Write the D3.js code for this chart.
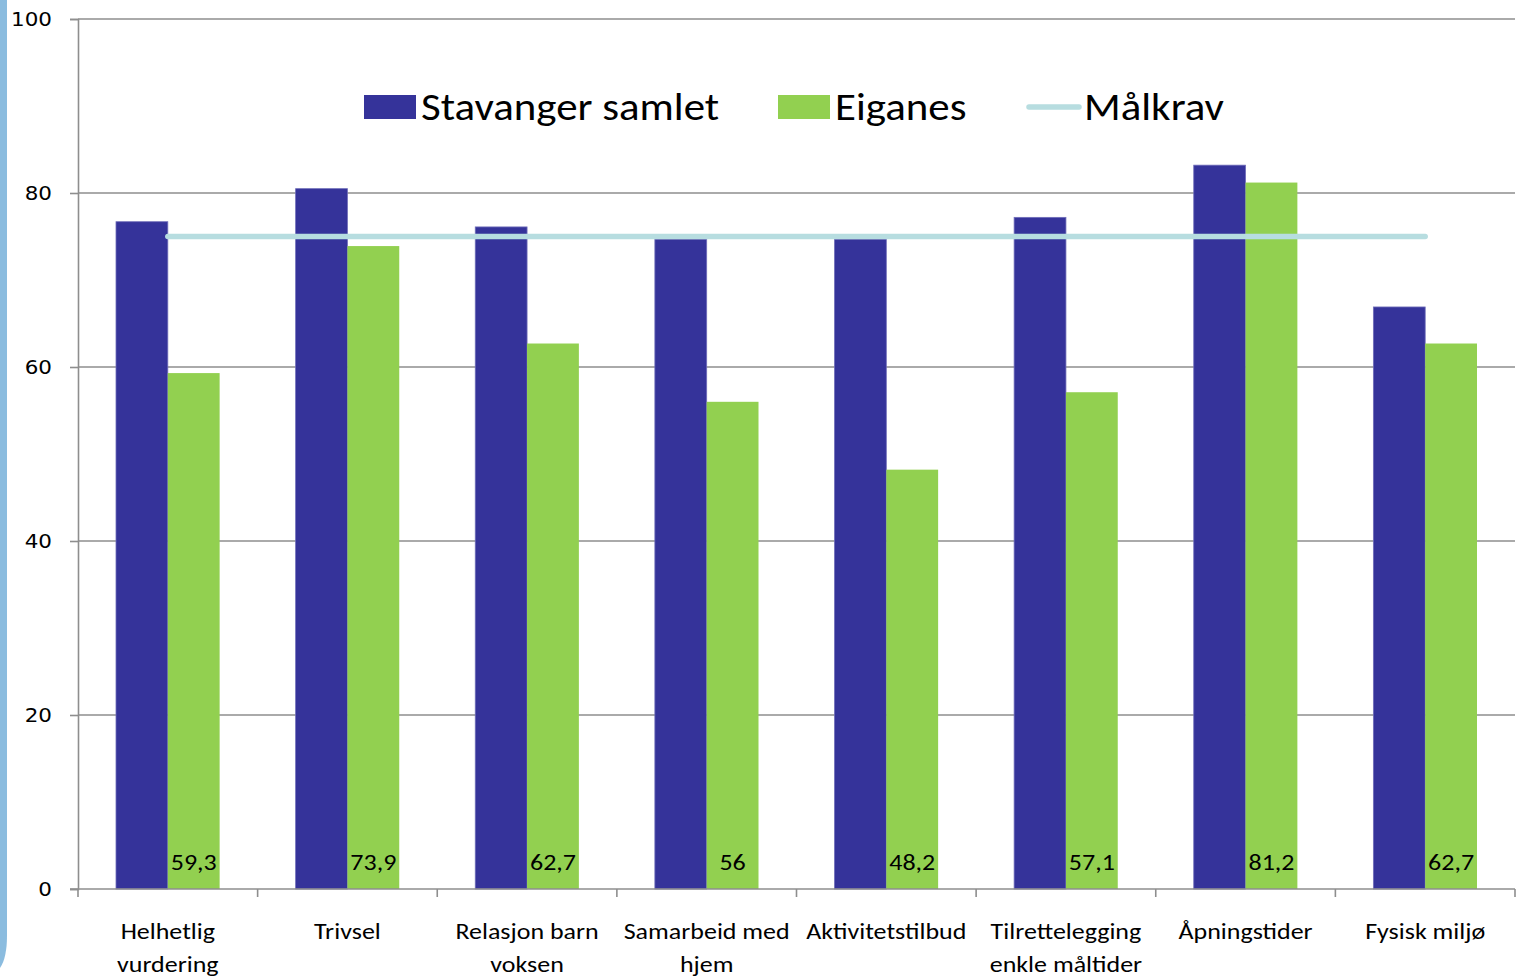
<!DOCTYPE html>
<html>
<head>
<meta charset="utf-8">
<script src="https://cdn.jsdelivr.net/npm/d3@7"></script>
<style>
  body { margin: 0; background: #fff; }
  svg { display: block; }
</style>
</head>
<body>
<div id="chart"></div>
<script>
// data
const categories = ["Helhetlig vurdering", "Trivsel", "Relasjon barn voksen", "Samarbeid med hjem",
  "Aktivitetstilbud", "Tilrettelegging enkle måltider", "Åpningstider", "Fysisk miljø"];
const categoryLines = [["Helhetlig", "vurdering"], ["Trivsel"], ["Relasjon barn", "voksen"], ["Samarbeid med", "hjem"],
  ["Aktivitetstilbud"], ["Tilrettelegging", "enkle måltider"], ["Åpningstider"], ["Fysisk miljø"]];
const stavanger = [76.7, 80.5, 76.1, 74.7, 74.7, 77.2, 83.2, 66.9];
const eiganes = [59.3, 73.9, 62.7, 56, 48.2, 57.1, 81.2, 62.7];
const maalkrav = 75;
const seriesNames = ["Stavanger samlet", "Eiganes", "Målkrav"];
const yTicks = [0, 20, 40, 60, 80, 100];

const W = 1520, H = 978;
const margin = { top: 19, right: 5, bottom: 89, left: 78 };
const colors = { blue: "#35339a", green: "#92d050", line: "#b7dde0", grid: "#8e8e8e" };
const font = "Carlito, Calibri, Lato, sans-serif";
const sx = 1.13; // the original text is a bit wider than Lato

const svg = d3.select("#chart").append("svg")
  .attr("width", W).attr("height", H);

// adds text at (x, y) stretched horizontally around its anchor
function stretchedText(sel, x, y) {
  return sel.append("text").attr("transform", `translate(${x},${y}) scale(${sx},1)`);
}

// left decoration strip
svg.append("path")
  .attr("d", "M0,0 L7,0 L7,935 Q7,958 0,968 Z")
  .attr("fill", "#8bbcdf");

const x0 = d3.scaleBand().domain(categories).range([margin.left, W - margin.right]).padding(0);
const x1 = d3.scaleBand().domain(["s", "e"]).range([38, x0.bandwidth() - 38]).padding(0);
const y = d3.scaleLinear().domain([0, 100]).range([H - margin.bottom, margin.top]);

// gridlines
svg.append("g").selectAll("line").data(yTicks.filter(d => d > 0)).join("line")
  .attr("x1", margin.left).attr("x2", W - margin.right)
  .attr("y1", d => y(d)).attr("y2", d => y(d))
  .attr("stroke", colors.grid).attr("stroke-width", 1.6);

// y axis
const yAxis = svg.append("g")
  .attr("transform", `translate(${margin.left},0)`)
  .call(d3.axisLeft(y).tickValues(yTicks).tickSize(8).tickFormat(""));
yAxis.select(".domain").attr("stroke", colors.grid).attr("stroke-width", 1.6);
yAxis.selectAll(".tick line").attr("stroke", colors.grid).attr("stroke-width", 1.6);
yTicks.forEach(t => {
  stretchedText(svg, margin.left - 26, y(t) + 7)
    .attr("text-anchor", "end")
    .attr("font-family", "DejaVu Sans, Verdana, sans-serif")
    .attr("font-size", 19).attr("fill", "#000")
    .text(t);
});

// bars
const groups = svg.append("g").selectAll("g").data(categories).join("g")
  .attr("transform", d => `translate(${x0(d)},0)`);

groups.append("rect")
  .attr("x", x1("s")).attr("width", x1.bandwidth())
  .attr("y", (d, i) => y(stavanger[i])).attr("height", (d, i) => y(0) - y(stavanger[i]))
  .attr("fill", colors.blue).attr("stroke", "#6f6db9").attr("stroke-width", 0.8);

groups.append("rect")
  .attr("x", x1("e")).attr("width", x1.bandwidth())
  .attr("y", (d, i) => y(eiganes[i])).attr("height", (d, i) => y(0) - y(eiganes[i]))
  .attr("fill", colors.green);

// value labels on green bars
groups.each(function(d, i) {
  stretchedText(d3.select(this), x1("e") + x1.bandwidth() / 2, y(0) - 19)
    .attr("text-anchor", "middle")
    .attr("font-family", font).attr("font-size", 23).attr("fill", "#000")
    .text(String(eiganes[i]).replace(".", ","));
});

// x axis
const xAxis = svg.append("g").attr("transform", `translate(0,${y(0)})`);
xAxis.append("line")
  .attr("x1", margin.left - 8).attr("x2", W - margin.right)
  .attr("stroke", colors.grid).attr("stroke-width", 1.6);
xAxis.selectAll("line.tick").data(d3.range(categories.length + 1)).join("line")
  .attr("class", "tick")
  .attr("x1", i => margin.left + i * x0.step()).attr("x2", i => margin.left + i * x0.step())
  .attr("y1", 0).attr("y2", 8)
  .attr("stroke", colors.grid).attr("stroke-width", 1.6);

categories.forEach((c, i) => {
  const t = stretchedText(svg, x0(c) + x0.bandwidth() / 2, y(0) + 50)
    .attr("text-anchor", "middle")
    .attr("font-family", font).attr("font-size", 23).attr("fill", "#000");
  t.selectAll("tspan").data(categoryLines[i]).join("tspan")
    .attr("x", 0)
    .attr("dy", (d, j) => j === 0 ? 0 : 33)
    .text(d => d);
});

// target line
svg.append("line")
  .attr("x1", x0(categories[0]) + x0.bandwidth() / 2)
  .attr("x2", x0(categories[categories.length - 1]) + x0.bandwidth() / 2)
  .attr("y1", y(maalkrav)).attr("y2", y(maalkrav))
  .attr("stroke", colors.line).attr("stroke-width", 5.5).attr("stroke-linecap", "round");

// legend
const legendY = 107;
const legend = svg.append("g");
const legendItems = [
  { name: seriesNames[0], x: 364, type: "rect", color: colors.blue },
  { name: seriesNames[1], x: 778, type: "rect", color: colors.green },
  { name: seriesNames[2], x: 1027, type: "line", color: colors.line }
];
legendItems.forEach(it => {
  if (it.type === "rect") {
    legend.append("rect").attr("x", it.x).attr("y", legendY - 12).attr("width", 52).attr("height", 24)
      .attr("fill", it.color);
  } else {
    legend.append("line").attr("x1", it.x + 2).attr("x2", it.x + 52).attr("y1", legendY).attr("y2", legendY)
      .attr("stroke", it.color).attr("stroke-width", 5.5).attr("stroke-linecap", "round");
  }
  stretchedText(legend, it.x + 57, legendY + 13)
    .attr("font-family", font).attr("font-size", 38).attr("fill", "#000")
    .text(it.name);
});
</script>
</body>
</html>
